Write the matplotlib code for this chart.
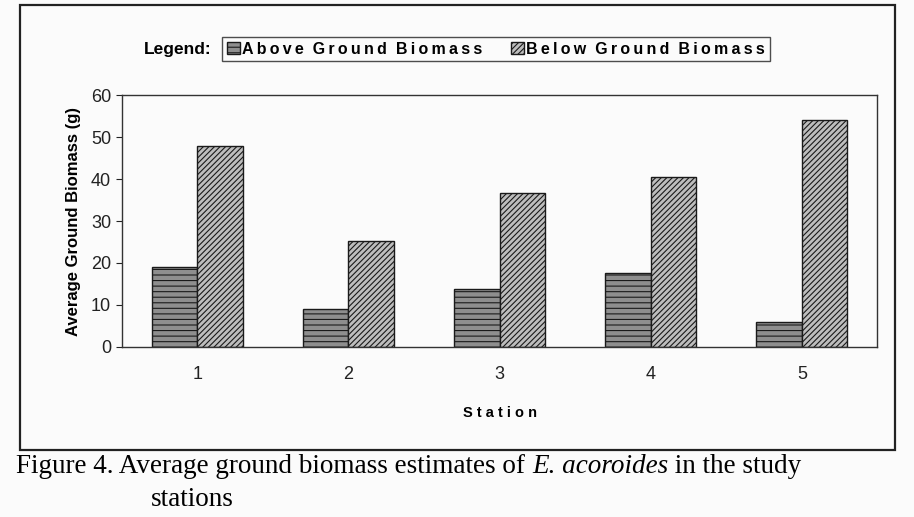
import numpy as np
import matplotlib
matplotlib.use("Agg")
from matplotlib import pyplot as plt
from matplotlib.patches import Rectangle

# data
stations = ["1", "2", "3", "4", "5"]
above_ground = [19.0, 9.0, 13.7, 17.5, 6.0]
below_ground = [47.8, 25.2, 36.7, 40.5, 54.0]
y_ticks = [0, 10, 20, 30, 40, 50, 60]
series_names = ["Above Ground Biomass", "Below Ground Biomass"]

plt.rcParams["font.family"] = ["Liberation Sans", "DejaVu Sans"]
plt.rcParams["hatch.linewidth"] = 0.8


def spaced(s):
    # the scan shows letter-spaced legend text
    return "  ".join("\u2009".join(w) for w in s.split(" "))


fig = plt.figure(figsize=(9.14, 5.17), dpi=100)
fig.patch.set_facecolor("#fbfbfb")

# outer frame of the chart object
fig.patches.append(Rectangle((0.022, 0.13), 0.957, 0.86, transform=fig.transFigure,
                             fill=False, edgecolor="#222222", linewidth=1.6))

ax = fig.add_axes([0.133, 0.329, 0.827, 0.487])
ax.set_facecolor("#fbfbfb")

x = np.arange(len(stations))
width = 0.3
b1 = ax.bar(x - width / 2, above_ground, width, facecolor="#8e8e8e",
            edgecolor="#1a1a1a", hatch="---", linewidth=1.0, label=series_names[0])
b2 = ax.bar(x + width / 2, below_ground, width, facecolor="#bdbdbd",
            edgecolor="#1a1a1a", hatch="//////", linewidth=1.0, label=series_names[1])

ax.set_xlim(-0.5, len(stations) - 0.5)
ax.set_ylim(0, 60)
ax.set_yticks(y_ticks)
ax.set_xticks(x)
ax.set_xticklabels(stations)
ax.tick_params(axis="both", labelsize=13, length=4, width=0.8, colors="#222222")
ax.tick_params(axis="x", length=0, pad=14)
for s in ax.spines.values():
    s.set_linewidth(1.0)
    s.set_color("#333333")

ax.set_ylabel("Average Ground Biomass (g)", fontsize=12, fontweight="bold", labelpad=7)
ax.set_xlabel("S t a t i o n", fontsize=10.5, fontweight="bold", labelpad=16)

# legend at the top
fig.text(0.157, 0.905, "Legend:", fontsize=12.5, fontweight="bold", va="center", ha="left")
leg = fig.legend(handles=[b1, b2], labels=[spaced(n) for n in series_names],
                 loc="center left", bbox_to_anchor=(0.243, 0.905), ncol=2,
                 prop={"weight": "bold", "size": 11.5}, frameon=True, fancybox=False,
                 handlelength=0.8, handleheight=0.8, handletextpad=0.15,
                 columnspacing=1.8, borderpad=0.3, borderaxespad=0)
leg.get_frame().set_edgecolor("#222222")
leg.get_frame().set_linewidth(1.0)
leg.get_frame().set_facecolor("#fbfbfb")

# caption with italic species name
serif = ["Liberation Serif", "DejaVu Serif"]
fig.canvas.draw()
r = fig.canvas.get_renderer()
cx, cy = 0.018, 0.085
for txt, style in [("Figure 4. Average ground biomass estimates of ", "normal"),
                   ("E. acoroides", "italic"),
                   (" in the study", "normal")]:
    t = fig.text(cx, cy, txt, fontsize=19.5, family=serif, style=style, va="baseline")
    bb = t.get_window_extent(renderer=r)
    cx += bb.width / fig.bbox.width
fig.text(0.165, 0.022, "stations", fontsize=19.5, family=serif, va="baseline")

fig.savefig("out.png", dpi=100, facecolor=fig.get_facecolor())
